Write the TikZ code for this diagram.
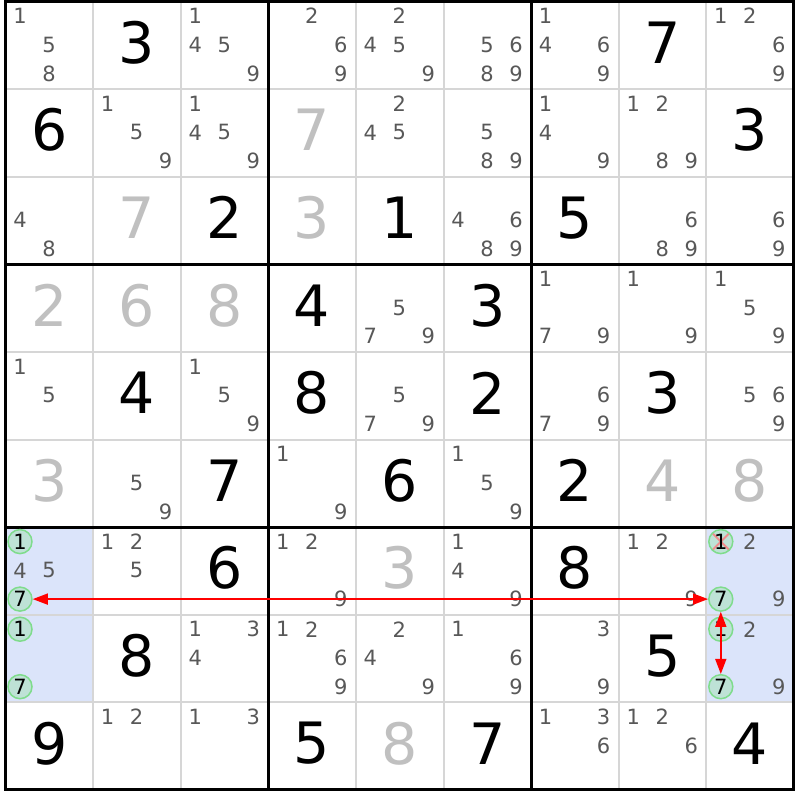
\documentclass[tikz,border=0pt]{standalone}
\usepackage{fontspec}
\setmainfont{DejaVu Sans}
\usetikzlibrary{arrows.meta}
\definecolor{candgray}{HTML}{585858}
\definecolor{solvgray}{HTML}{C0C0C0}
\definecolor{thingray}{HTML}{D6D6D6}
\definecolor{hiblue}{HTML}{DBE4FA}
\definecolor{ringgreen}{HTML}{7FDC8C}
\definecolor{ringfill}{HTML}{BEE2D6}
\definecolor{xred}{HTML}{F08C8C}
\tikzset{
  bigdig/.style={inner sep=0pt, anchor=center, font=\fontsize{57}{60}\selectfont, text=black},
  cand/.style={inner sep=0pt, anchor=center, font=\fontsize{21}{21}\selectfont, text=candgray},
  ring/.style={circle, minimum size=24pt, inner sep=0pt, draw=ringgreen, fill=ringfill, line width=1.5pt, font=\fontsize{21}{21}\selectfont, text=black},
  xmark/.style={path picture={\draw[xred, line width=2pt] (path picture bounding box.north west) -- (path picture bounding box.south east) (path picture bounding box.north east) -- (path picture bounding box.south west);}},
  link/.style={draw=red, line width=1.5pt, {Triangle[length=15pt,width=11pt]}-{Triangle[length=15pt,width=11pt]}}
}
\newcommand\given[3]{\node[bigdig] (g#1#2) at ({5.5+(#2-1)*87.6+43.8},{1.5+(#1-1)*87.6+41}) {#3};}
\newcommand\solved[3]{\node[bigdig, text=solvgray] (g#1#2) at ({5.5+(#2-1)*87.6+43.8},{1.5+(#1-1)*87.6+41}) {#3};}
\newcommand\cpos[3]{%
  \pgfmathsetmacro\px{5.5+(#2-1)*87.6+14.5+mod(#3-1,3)*29}%
  \pgfmathsetmacro\py{1.5+(#1-1)*87.6+14.5+div(#3-1,3)*28.75}}
\newcommand\cands[3]{\foreach \d in {#3}{\cpos{#1}{#2}{\d}\node[cand] (c#1#2n\d) at (\px,\py) {\d};}}
\newcommand\ringc[4][]{\cpos{#2}{#3}{#4}\node[ring,#1] (o#2#3n#4) at (\px,\py) {#4};}
\begin{document}
\begin{tikzpicture}[x=1pt,y=-1pt]
\useasboundingbox (0,0) rectangle (800,800);
\fill[white] (0,0) rectangle (800,800);
% highlighted cells
\fill[hiblue] ({5.5},{1.5+6*87.6}) rectangle ({5.5+87.6},{1.5+8*87.6});
\fill[hiblue] ({5.5+8*87.6},{1.5+6*87.6}) rectangle ({5.5+9*87.6},{1.5+8*87.6});
% thin grid
\foreach \i in {1,2,4,5,7,8}{
  \draw[thingray, line width=2pt] ({5.5+\i*87.6},1.5) -- ({5.5+\i*87.6},{1.5+9*87.6});
  \draw[thingray, line width=2pt] (5.5,{1.5+\i*87.6}) -- ({5.5+9*87.6},{1.5+\i*87.6});
}
% thick grid
\foreach \i in {0,3,6,9}{
  \draw[black, line width=3pt] ({5.5+\i*87.6},0) -- ({5.5+\i*87.6},{3+9*87.6});
  \draw[black, line width=3pt] (4,{1.5+\i*87.6}) -- ({7+9*87.6},{1.5+\i*87.6});
}
% row 1
\cands{1}{1}{1,5,8} \given{1}{2}{3} \cands{1}{3}{1,4,5,9} \cands{1}{4}{2,6,9} \cands{1}{5}{2,4,5,9} \cands{1}{6}{5,6,8,9} \cands{1}{7}{1,4,6,9} \given{1}{8}{7} \cands{1}{9}{1,2,6,9}
% row 2
\given{2}{1}{6} \cands{2}{2}{1,5,9} \cands{2}{3}{1,4,5,9} \solved{2}{4}{7} \cands{2}{5}{2,4,5} \cands{2}{6}{5,8,9} \cands{2}{7}{1,4,9} \cands{2}{8}{1,2,8,9} \given{2}{9}{3}
% row 3
\cands{3}{1}{4,8} \solved{3}{2}{7} \given{3}{3}{2} \solved{3}{4}{3} \given{3}{5}{1} \cands{3}{6}{4,6,8,9} \given{3}{7}{5} \cands{3}{8}{6,8,9} \cands{3}{9}{6,9}
% row 4
\solved{4}{1}{2} \solved{4}{2}{6} \solved{4}{3}{8} \given{4}{4}{4} \cands{4}{5}{5,7,9} \given{4}{6}{3} \cands{4}{7}{1,7,9} \cands{4}{8}{1,9} \cands{4}{9}{1,5,9}
% row 5
\cands{5}{1}{1,5} \given{5}{2}{4} \cands{5}{3}{1,5,9} \given{5}{4}{8} \cands{5}{5}{5,7,9} \given{5}{6}{2} \cands{5}{7}{6,7,9} \given{5}{8}{3} \cands{5}{9}{5,6,9}
% row 6
\solved{6}{1}{3} \cands{6}{2}{5,9} \given{6}{3}{7} \cands{6}{4}{1,9} \given{6}{5}{6} \cands{6}{6}{1,5,9} \given{6}{7}{2} \solved{6}{8}{4} \solved{6}{9}{8}
% row 7
\cands{7}{1}{4,5} \ringc{7}{1}{1} \ringc{7}{1}{7}
\cands{7}{2}{1,2,5} \given{7}{3}{6} \cands{7}{4}{1,2,9} \solved{7}{5}{3} \cands{7}{6}{1,4,9} \given{7}{7}{8} \cands{7}{8}{1,2,9}
\cands{7}{9}{2,9} \ringc[xmark]{7}{9}{1} \ringc{7}{9}{7}
% row 8
\ringc{8}{1}{1} \ringc{8}{1}{7}
\given{8}{2}{8} \cands{8}{3}{1,3,4} \cands{8}{4}{1,2,6,9} \cands{8}{5}{2,4,9} \cands{8}{6}{1,6,9} \cands{8}{7}{3,9} \given{8}{8}{5}
\cands{8}{9}{2,9} \ringc{8}{9}{1} \ringc{8}{9}{7}
% row 9
\given{9}{1}{9} \cands{9}{2}{1,2} \cands{9}{3}{1,3} \given{9}{4}{5} \solved{9}{5}{8} \given{9}{6}{7} \cands{9}{7}{1,3,6} \cands{9}{8}{1,2,6} \given{9}{9}{4}
% links
\draw[link] (o71n7) -- (o79n7);
\draw[link] (o79n7) -- (o89n7);
\end{tikzpicture}
\end{document}
